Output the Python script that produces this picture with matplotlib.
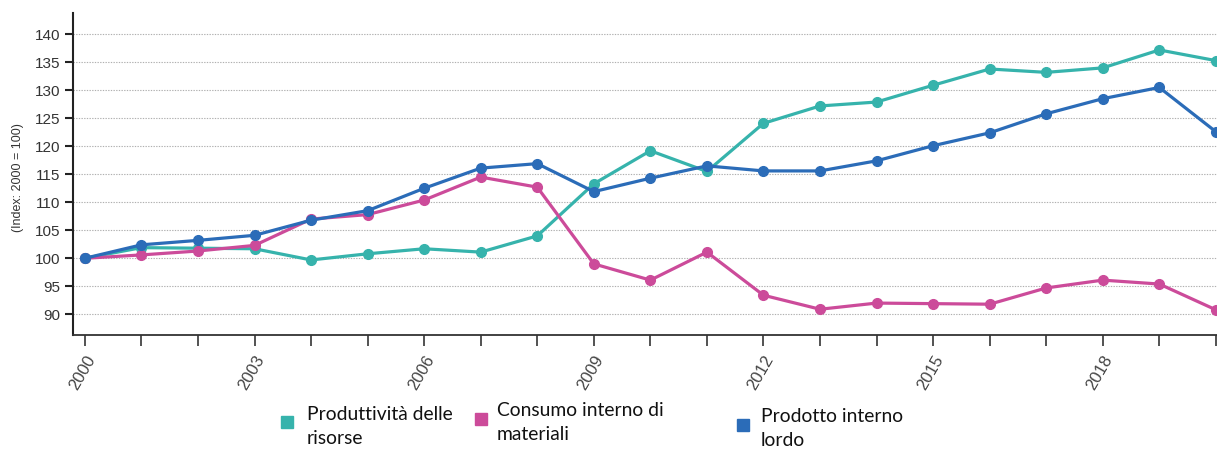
import matplotlib
matplotlib.use("Agg")
import matplotlib.pyplot as plt
from matplotlib.patches import Rectangle

years = list(range(2000, 2021))
produttivita = [100, 101.9, 101.8, 101.7, 99.7, 100.8, 101.7, 101.1, 104.0, 113.3, 119.2,
                115.5, 124.1, 127.2, 127.9, 130.9, 133.8, 133.2, 134.0, 137.2, 135.3]
consumo = [100, 100.6, 101.3, 102.3, 107.0, 107.8, 110.4, 114.5, 112.7, 99.0, 96.1,
           101.1, 93.4, 90.9, 92.0, 91.9, 91.8, 94.7, 96.1, 95.4, 90.8]
pil = [100, 102.4, 103.2, 104.1, 106.8, 108.5, 112.5, 116.1, 116.9, 111.9, 114.3,
       116.5, 115.6, 115.6, 117.4, 120.1, 122.4, 125.8, 128.5, 130.5, 122.6]

series_names = ["Produttività delle\nrisorse", "Consumo interno di\nmateriali", "Prodotto interno\nlordo"]
colors = ["#36b3ac", "#cc4b9a", "#2b6cb8"]
yticks = list(range(90, 141, 5))
xlabel_years = [2000, 2003, 2006, 2009, 2012, 2015, 2018]
ylabel = "(Index: 2000 = 100)"

W, H = 1217, 449
fig = plt.figure(figsize=(W / 100, H / 100), dpi=100)
ax = fig.add_axes([73 / W, 1 - 335 / H, 1 - 73 / W, (335 - 13) / H])

for vals, c in zip([produttivita, consumo, pil], colors):
    ax.plot(years, vals, color=c, lw=2.3, marker="o", markersize=7, solid_capstyle="round", zorder=3)

ax.set_xlim(1999.79, 2020.02)
ax.set_ylim(86.3, 143.8)
ax.set_yticks(yticks)
ax.set_yticklabels([str(v) for v in yticks], fontsize=11, color="#333333", family="Liberation Sans")
ax.set_xticks(years)
ax.set_xticklabels([str(y) if y in xlabel_years else "" for y in years], rotation=60,
                   ha="right", va="top", rotation_mode="anchor", fontsize=12,
                   color="#444444", family="Liberation Sans")
ax.tick_params(axis="y", length=6, width=1.5, color="#222222", pad=3)
ax.tick_params(axis="x", length=8, width=1.3, color="#444444", pad=5)
ax.yaxis.grid(True, linestyle=(0, (1.2, 1.2)), color="#b0b0b0", lw=0.8)
ax.set_axisbelow(True)
for s in ["top", "right"]:
    ax.spines[s].set_visible(False)
ax.spines["left"].set_linewidth(1.5)
ax.spines["left"].set_color("#222222")
ax.spines["bottom"].set_linewidth(1.3)
ax.spines["bottom"].set_color("#333333")

fig.text(18 / W, 1 - 178 / H, ylabel, rotation=90, ha="center", va="center",
         fontsize=9, color="#333333", family="Liberation Sans")

# legend
leg_sq_x = [281, 475, 737]
leg_sq_y = [422, 419, 425]
leg_tx_x = [307, 497, 761]
leg_tx_y = [426, 423, 428]
for name, c, sx, sy, tx, ty in zip(series_names, colors, leg_sq_x, leg_sq_y, leg_tx_x, leg_tx_y):
    fig.add_artist(Rectangle((sx / W, 1 - (sy + 6) / H), 12 / W, 12 / H,
                             transform=fig.transFigure, color=c))
    fig.text(tx / W, 1 - ty / H, name, ha="left", va="center", fontsize=13.9,
             family="Lato", color="#111111", linespacing=1.5)

fig.savefig("out.png", dpi=100)
